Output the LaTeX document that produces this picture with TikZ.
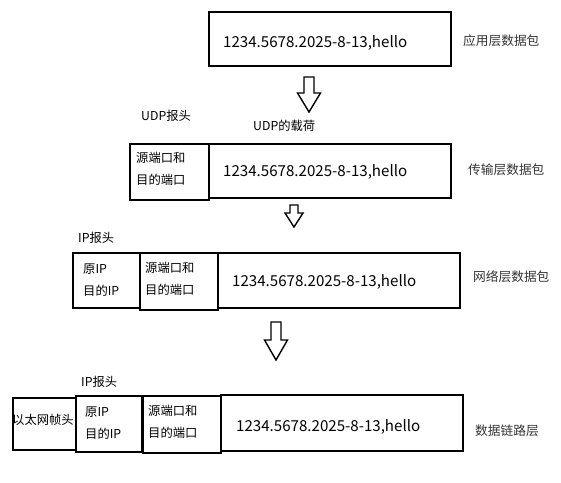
\documentclass[tikz,border=0pt]{standalone}
\usepackage{fontspec}
\setmainfont{Noto Sans CJK SC}
\newcommand\hollowdownarrow[6]{% cx, top, headY, tip, shaftHalf, headHalf
  \draw[arrowline] (#1-#5,#2) -- (#1+#5,#2) -- (#1+#5,#3) -- (#1+#6,#3) -- (#1,#4) -- (#1-#6,#3) -- (#1-#5,#3) -- cycle;}
\begin{document}
\begin{tikzpicture}[x=1pt,y=-1pt,
  box/.style={draw, line width=1.6pt, anchor=north west, inner sep=0pt},
  arrowline/.style={draw, line width=1.4pt, line join=miter},
  lbl/.style={anchor=west, inner sep=0pt, font=\fontsize{12.3}{14}\selectfont},
  side/.style={anchor=west, inner sep=0pt, text=black!80, font=\fontsize{12.7}{14}\selectfont},
  pay/.style={anchor=west, inner sep=0pt, font=\fontsize{15.1}{17}\selectfont},
  two/.style={anchor=west, inner sep=0pt, align=left, font=\fontsize{12.3}{21.5}\selectfont}]
\useasboundingbox (0,0) rectangle (561,482);
% application layer
\node[box, minimum width=242pt, minimum height=54pt] (a) at (208,11) {};
\node[pay] (at) at (223,43) {1234.5678.2025-8-13,hello};
\node[side] (al) at (463,41) {应用层数据包};
\hollowdownarrow{309}{77}{93}{112}{5}{11.5}
% transport layer
\node[lbl] (udph) at (141,116) {UDP报头};
\node[lbl] (udpp) at (253,126) {UDP的载荷};
\node[box, minimum width=79pt, minimum height=56pt] (t1) at (129,143) {};
\node[box, minimum width=242pt, minimum height=54pt] (t2) at (208,143) {};
\node[two] (t1t) at (136,169) {源端口和\\目的端口};
\node[pay] (tt) at (223,172) {1234.5678.2025-8-13,hello};
\node[side] (tl) at (468,170) {传输层数据包};
\hollowdownarrow{294}{205}{213}{227}{4}{9}
% network layer
\node[lbl] (iph) at (78,238) {IP报头};
\node[box, minimum width=67pt, minimum height=55pt] (n1) at (72,252) {};
\node[box, minimum width=78pt, minimum height=57pt] (n2) at (139,252) {};
\node[box, minimum width=242pt, minimum height=55pt] (n3) at (217,252) {};
\node[two] (n1t) at (83,280) {原IP\\目的IP};
\node[two] (n2t) at (145,279) {源端口和\\目的端口};
\node[pay] (nt) at (232,282) {1234.5678.2025-8-13,hello};
\node[side] (nl) at (473,277) {网络层数据包};
\hollowdownarrow{276}{322}{340}{360}{5}{11.5}
% data link layer
\node[lbl] (iph2) at (81,382) {IP报头};
\node[box, minimum width=63pt, minimum height=52pt] (d1) at (12,397) {};
\node[box, minimum width=66pt, minimum height=56pt] (d2) at (75,395) {};
\node[box, minimum width=78pt, minimum height=57pt] (d3) at (142,395) {};
\node[box, minimum width=242pt, minimum height=56pt] (d4) at (220,394) {};
\node[lbl] (d1t) at (12,420) {以太网帧头};
\node[two] (d2t) at (85,423) {原IP\\目的IP};
\node[two] (d3t) at (148,422) {源端口和\\目的端口};
\node[pay] (dt) at (236,427) {1234.5678.2025-8-13,hello};
\node[side] (dl) at (475,431) {数据链路层};
\end{tikzpicture}
\end{document}
